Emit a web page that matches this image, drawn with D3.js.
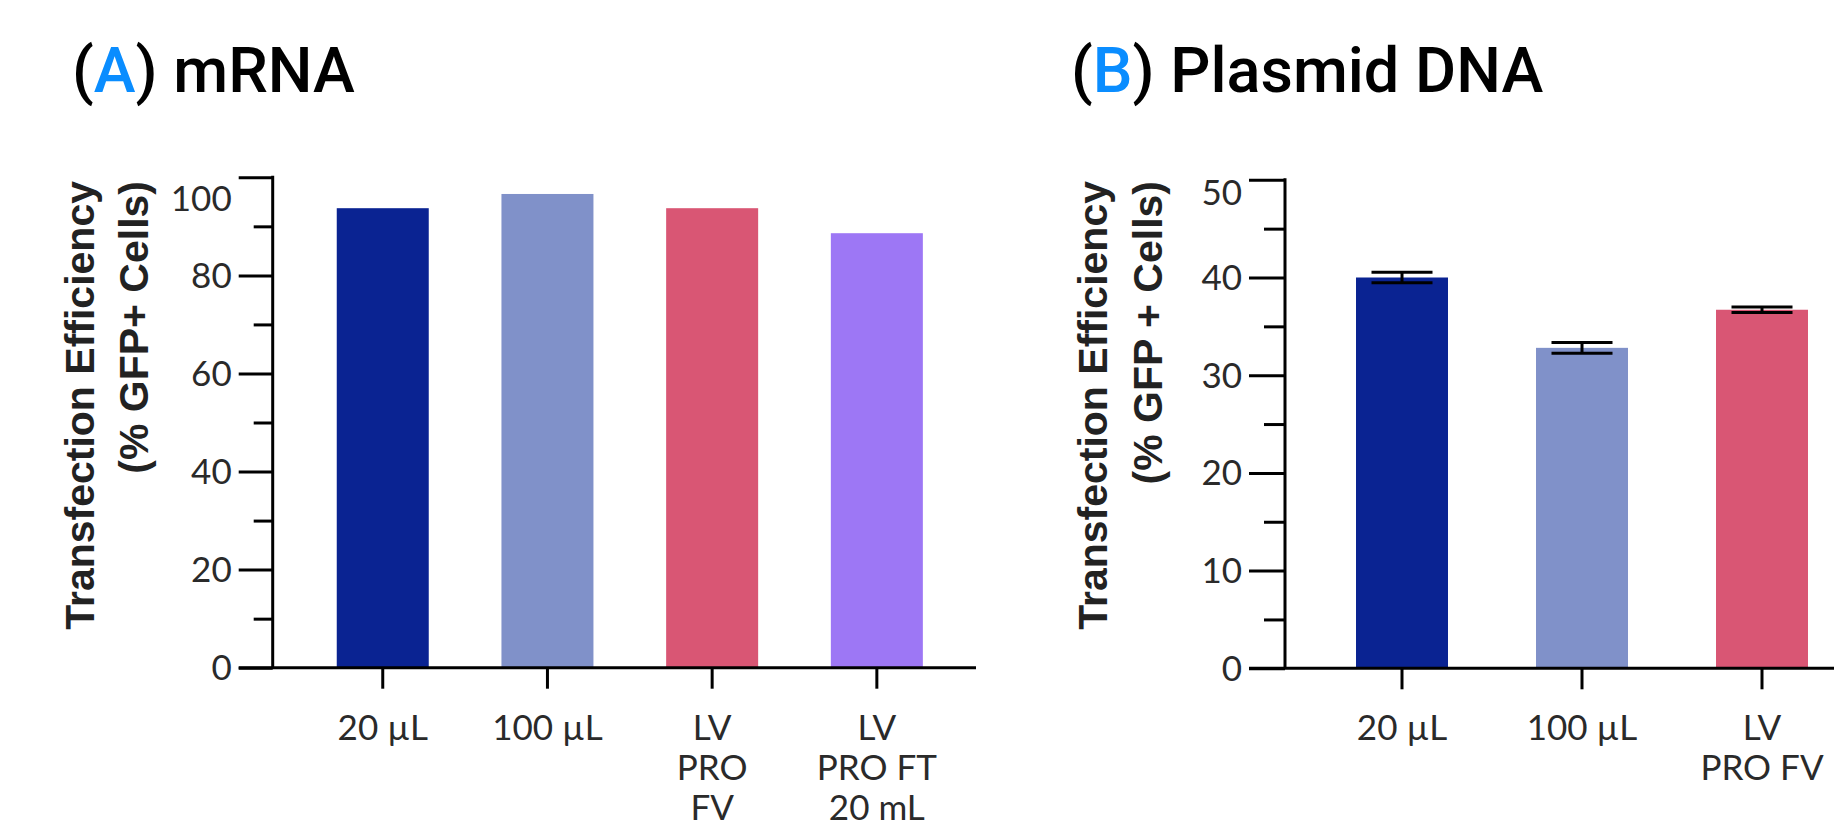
<!DOCTYPE html>
<html>
<head>
<meta charset="utf-8">
<script src="https://cdn.jsdelivr.net/npm/d3@7"></script>
<style>
  html, body { margin: 0; padding: 0; background: #fff; }
  svg { display: block; }
</style>
</head>
<body>
<svg id="chart" width="1834" height="828"></svg>
<script>
// ---------- data ----------
const categoriesA = ["20 µL", "100 µL", "LV\nPRO\nFV", "LV\nPRO FT\n20 mL"];
const valuesA = [93.7, 96.6, 93.7, 88.6];
const categoriesB = ["20 µL", "100 µL", "LV\nPRO FV"];
const valuesB = [40.0, 32.8, 36.7];
const errorsB = [0.55, 0.55, 0.27];
const barColors = ["#0a2392", "#8091c9", "#d95674", "#9d77f5"];
const majorTicksA = [0, 20, 40, 60, 80, 100];
const minorTicksA = [10, 30, 50, 70, 90];
const majorTicksB = [0, 10, 20, 30, 40, 50];
const minorTicksB = [5, 15, 25, 35, 45];
const titleA = { letter: "A", text: " mRNA" };
const titleB = { letter: "B", text: " Plasmid DNA" };
const yTitleA = ["Transfection Efficiency", "(% GFP+ Cells)"];
const yTitleB = ["Transfection Efficiency", "(% GFP + Cells)"];

const svg = d3.select("#chart");
const TICK_FONT = "Lato, 'Open Sans', sans-serif";
const TITLE_FONT = "Roboto, 'Liberation Sans', Arial, sans-serif";
const AXIS_TITLE_FONT = "'Liberation Sans', Arial, sans-serif";

function panel(cfg) {
  const g = svg.append("g");
  const y = d3.scaleLinear().domain([0, cfg.yMax]).range([cfg.y0, cfg.y1]);
  const x = d3.scaleBand().domain(cfg.categories)
    .range(cfg.xRange).paddingInner(cfg.pad).paddingOuter(cfg.pad / 2);

  // title
  const t = g.append("text")
    .attr("x", cfg.titleX).attr("y", 92)
    .attr("font-family", TITLE_FONT).attr("font-weight", 500)
    .attr("font-size", 63).attr("fill", "#000");
  t.append("tspan").text("(");
  t.append("tspan").attr("fill", "#0a8dff").text(cfg.title.letter);
  t.append("tspan").text(")" + cfg.title.text);

  // bars
  g.selectAll("rect.bar").data(cfg.values).join("rect")
    .attr("class", "bar")
    .attr("x", (d, i) => x(cfg.categories[i]))
    .attr("width", x.bandwidth())
    .attr("y", d => y(d))
    .attr("height", d => y(0) - y(d))
    .attr("fill", (d, i) => barColors[i]);

  // error bars
  if (cfg.errors) {
    const capW = 61;
    const eg = g.selectAll("g.err").data(cfg.values).join("g").attr("class", "err")
      .attr("stroke", "#000").attr("stroke-width", 3);
    eg.append("line")
      .attr("x1", (d, i) => x(cfg.categories[i]) + x.bandwidth() / 2)
      .attr("x2", (d, i) => x(cfg.categories[i]) + x.bandwidth() / 2)
      .attr("y1", (d, i) => y(d + cfg.errors[i]))
      .attr("y2", (d, i) => y(d - cfg.errors[i]));
    [1, -1].forEach(s => {
      eg.append("line")
        .attr("x1", (d, i) => x(cfg.categories[i]) + x.bandwidth() / 2 - capW / 2)
        .attr("x2", (d, i) => x(cfg.categories[i]) + x.bandwidth() / 2 + capW / 2)
        .attr("y1", (d, i) => y(d + s * cfg.errors[i]))
        .attr("y2", (d, i) => y(d + s * cfg.errors[i]));
    });
  }

  // y axis: major ticks with labels
  const yAxisG = g.append("g").attr("transform", `translate(${cfg.axisX},0)`)
    .call(d3.axisLeft(y).tickValues(cfg.majorTicks).tickSize(cfg.majorLen).tickPadding(7)
      .tickFormat(d3.format("d")));
  yAxisG.select(".domain").remove();
  yAxisG.selectAll(".tick line").attr("stroke", "#000").attr("stroke-width", 3);
  yAxisG.selectAll(".tick text")
    .attr("font-family", TICK_FONT).attr("font-weight", 400)
    .attr("font-size", 35).attr("fill", "#2a2a2a")
    .attr("dy", d => d === cfg.yMax ? cfg.topLabelShift + "px" : "0.34em");
  // minor ticks
  const yMinorG = g.append("g").attr("transform", `translate(${cfg.axisX},0)`)
    .call(d3.axisLeft(y).tickValues(cfg.minorTicks).tickSize(cfg.minorLen).tickFormat(""));
  yMinorG.select(".domain").remove();
  yMinorG.selectAll(".tick line").attr("stroke", "#000").attr("stroke-width", 3);
  // y axis line
  g.append("line").attr("x1", cfg.axisX).attr("x2", cfg.axisX)
    .attr("y1", y(cfg.yMax) - 1.5).attr("y2", y(0))
    .attr("stroke", "#000").attr("stroke-width", 3);

  // x axis
  const xAxisG = g.append("g").attr("transform", `translate(0,${y(0)})`)
    .call(d3.axisBottom(x).tickSize(21).tickFormat(""));
  xAxisG.select(".domain").remove();
  xAxisG.selectAll(".tick line").attr("stroke", "#000").attr("stroke-width", 3);
  g.append("line").attr("x1", cfg.axisX - cfg.majorLen).attr("x2", cfg.xAxisEnd)
    .attr("y1", y(0)).attr("y2", y(0))
    .attr("stroke", "#000").attr("stroke-width", 3);

  // x labels (multi-line)
  cfg.categories.forEach(c => {
    const lines = c.split("\n");
    const tx = g.append("text")
      .attr("font-family", TICK_FONT).attr("font-weight", 400)
      .attr("font-size", 35).attr("fill", "#2a2a2a")
      .attr("text-anchor", "middle");
    lines.forEach((ln, k) => {
      tx.append("tspan").attr("x", x(c) + x.bandwidth() / 2)
        .attr("y", 740 + k * 40).text(ln);
    });
  });

  // y axis title (rotated, end-aligned at top)
  cfg.yTitle.forEach((ln, k) => {
    g.append("text")
      .attr("transform", `translate(${cfg.yTitleX[k]},181) rotate(-90)`)
      .attr("text-anchor", "end")
      .attr("font-family", AXIS_TITLE_FONT).attr("font-weight", "bold")
      .attr("font-size", 41).attr("fill", "#222")
      .text(ln);
  });
}

panel({
  categories: categoriesA, values: valuesA, yMax: 100,
  majorTicks: majorTicksA, minorTicks: minorTicksA,
  y0: 667.7, y1: 177.3, axisX: 272.7, majorLen: 34, minorLen: 19,
  xRange: [300.4, 959.2], pad: 0.4414, xAxisEnd: 976,
  title: titleA, titleX: 72, yTitle: yTitleA, yTitleX: [93.7, 148],
  topLabelShift: 21 + 0.34 * 35
});

panel({
  categories: categoriesB, values: valuesB, errors: errorsB, yMax: 50,
  majorTicks: majorTicksB, minorTicks: minorTicksB,
  y0: 668.3, y1: 179.8, axisX: 1285, majorLen: 36, minorLen: 21,
  xRange: [1312, 1852], pad: 0.489, xAxisEnd: 1834,
  title: titleB, titleX: 1071, yTitle: yTitleB, yTitleX: [1106.7, 1161.8],
  topLabelShift: 13 + 0.34 * 35
});
</script>
</body>
</html>
